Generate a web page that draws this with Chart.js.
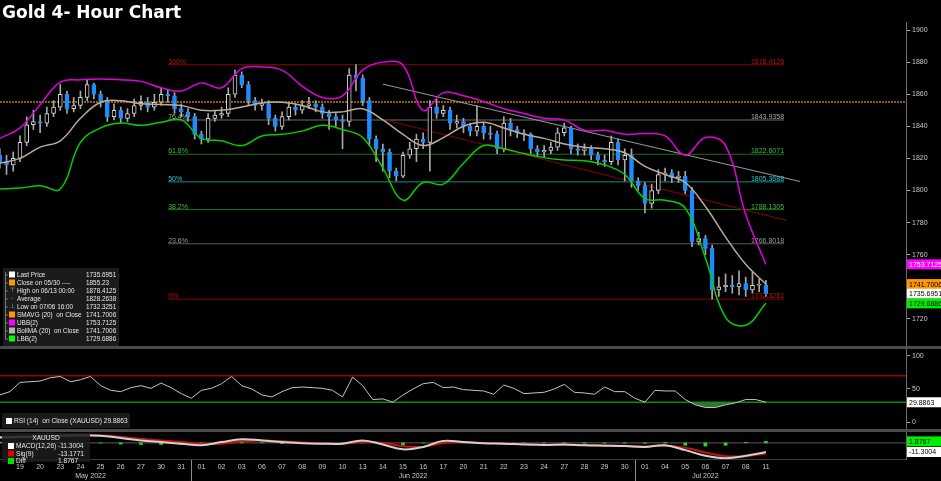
<!DOCTYPE html>
<html>
<head>
<meta charset="utf-8">
<title>Gold 4- Hour Chart</title>
<script src="https://cdn.jsdelivr.net/npm/chart.js@4.4.1/dist/chart.umd.min.js"></script>
<style>
  html, body { margin: 0; padding: 0; background: #000; }
  canvas { display: block; }
</style>
</head>
<body>
<canvas id="goldChart" width="941" height="481"></canvas>
<script>
// Gold 4-hour chart: candles + Bollinger bands, RSI(14) and MACD panels

const TITLE = 'Gold 4- Hour Chart';

// trading days shown on the x axis (index 0 = May 19)
const dayLabels = ['19','20','23','24','25','26','27','30','31',
  '01','02','03','06','07','08','09','10','13','14','15','16','17','20','21','22','23','24','27','28','29','30',
  '01','04','05','06','07','08','11'];
const monthNames = ['May 2022', 'Jun 2022', 'Jul 2022'];
const monthFirstDay = [-1, 9, 31];
const monthLastDay = [8, 30, 37];

// 4-hour candles, three per trading day, starting at day -1
const opens = [1822,1818,1816,1820,1830,1841,1843,1842,1848,1852,
  1860,1851,1853,1858,1866,1860,1856,1846,1850,1845,
  1848,1853,1855,1852,1855,1860,1859,1851,1849,1846,
  1835,1832,1845,1847,1848,1860,1872,1866,1856,1853,
  1854,1845,1840,1846,1852,1850,1853,1854,1852,1848,
  1846,1844,1843,1872,1870,1856,1832,1826,1824,1812,
  1809,1822,1826,1832,1830,1852,1848,1850,1842,1843,
  1840,1837,1840,1836,1835,1826,1842,1838,1836,1835,
  1826,1824,1825,1827,1836,1839,1826,1825,1826,1822,
  1819,1818,1830,1819,1822,1806,1803,1792,1800,1810,
  1811,1808,1809,1800,1768,1770,1764,1738,1740,1741,
  1740,1742,1738,1741,1741];
const closes = [1818,1816,1820,1830,1841,1843,1842,1848,1852,1860,
  1851,1853,1858,1866,1860,1856,1846,1850,1845,1848,
  1853,1855,1852,1855,1860,1859,1851,1849,1846,1835,
  1832,1845,1847,1848,1860,1872,1866,1856,1853,1854,
  1845,1840,1846,1852,1850,1853,1854,1852,1848,1846,
  1844,1843,1872,1870,1856,1832,1826,1824,1812,1809,
  1822,1826,1832,1830,1852,1848,1850,1842,1843,1840,
  1837,1840,1836,1835,1826,1842,1838,1836,1835,1826,
  1824,1825,1827,1836,1839,1826,1825,1826,1822,1819,
  1818,1830,1819,1822,1806,1803,1792,1800,1810,1811,
  1808,1809,1800,1768,1770,1764,1738,1740,1741,1740,
  1742,1738,1741,1741,1735.7];
const highs = [1826,1822,1824,1834,1846,1850,1847,1852,1856,1866,
  1862,1858,1862,1869,1867,1862,1858,1854,1852,1851,
  1857,1859,1858,1860,1864,1863,1861,1854,1851,1848,
  1837,1848,1850,1852,1864,1875,1874,1868,1858,1857,
  1856,1847,1849,1855,1854,1856,1858,1856,1854,1850,
  1848,1847,1876,1878.4,1872,1858,1834,1829,1826,1814,
  1824,1830,1835,1836,1856,1857,1853,1852,1847,1845,
  1842,1853,1842,1840,1837,1846,1845,1840,1838,1836,
  1828,1828,1830,1839,1842,1840,1829,1829,1828,1824,
  1822,1834,1832,1826,1826,1808,1805,1804,1813,1814,
  1813,1812,1812,1802,1774,1772,1766,1746,1748,1747,
  1750,1746,1749,1745,1744];
const lows = [1814,1810,1812,1818,1828,1838,1836,1840,1846,1850,
  1848,1849,1851,1856,1857,1852,1843,1844,1842,1843,
  1846,1850,1849,1850,1853,1855,1848,1846,1843,1832,
  1829,1830,1843,1845,1846,1858,1864,1853,1850,1850,
  1841,1837,1838,1844,1847,1848,1851,1849,1845,1838,
  1840,1826,1840,1862,1853,1828,1818,1812,1808,1806,
  1808,1820,1818,1826,1812,1845,1846,1838,1839,1836,
  1834,1834,1832,1832,1823,1824,1834,1833,1831,1823,
  1821,1821,1823,1825,1834,1823,1822,1822,1819,1816,
  1815,1816,1816,1806,1802,1800,1786,1789,1798,1806,
  1805,1805,1798,1765,1766,1760,1732.3,1734,1737,1736,
  1735,1734,1736,1737,1734];

// Bollinger bands, one reading per day from day -1
const ubb = [1832.5,1839,1853.5,1867.5,1869,1869.5,1869,1868,1864,1862,
  1867,1864,1876,1877,1875,1865,1858,1859,1875,1880,
  1878,1850,1861,1859,1855.5,1851,1848,1845,1844,1837.5,
  1837.5,1835,1835.5,1834,1822,1833,1828,1785,1754];
const smavg = [1817,1820,1827,1831,1845,1855,1856,1854,1853.6,1853,
  1850,1850,1852,1854.5,1855,1853,1849,1849,1851,1844,
  1835,1828,1833,1840,1842.5,1839,1835,1832.5,1829,1827,
  1826,1823.5,1815,1810,1805,1790,1771,1754,1741.7];
const lbb = [1801,1801.5,1803,1801,1830,1839,1842,1840.6,1842.5,1844,
  1832.5,1831,1828,1834,1835,1837,1840.6,1838,1833,1814,
  1794,1805,1804,1817,1828,1826,1823,1820.5,1819,1818.5,
  1816,1810,1795,1794,1789,1758,1721,1716,1729.7];

// drawings on the price panel
const closeRef = 1855.23;
const fibPcts = ['100%', '76.4%', '61.8%', '50%', '38.2%', '23.6%', '0%'];
const fibValues = [1878.4125, 1843.9358, 1822.6071, 1805.3688, 1788.1305, 1766.8018, 1732.3251];
const fibColors = ['#8b0000', '#6e6e6e', '#1c6e1c', '#1a8a8a', '#1c6e1c', '#5a5a5a', '#8b0000'];
const fibTextColors = ['#c01010', '#a8a8a8', '#3cbf3c', '#2ac8c8', '#3cbf3c', '#9a9a9a', '#c01010'];
const fibDays = [7.35, 37.9];
const grayTrendDays = [18.0, 38.7];
const grayTrendPrices = [1866.3, 1805.6];
const redTrendDays = [18.2, 38.05];
const redTrendPrices = [1843.8, 1781.3];

// RSI(14), two readings per day from day -1
const rsi = [41,46,60,61,62,67,69,61,64,69,
  55,48,46,52,55,51,59,52,43,36,
  48,51,58,69,55,50,41,38,46,52,
  53,52,51,48,38,68,55,34,35,30,
  41,50,58,60,52,53,49,48,47,42,
  56,51,43,44,45,50,57,45,44,42,
  53,46,46,36,30,48,47,47,34,26,
  22,22,26,29,34,34,29.9];
const rsiLevels = [70, 30];

// MACD(12,26), signal(9) and diff, one reading per day from day -1
const macd = [7,7.5,8,9,9.5,9,6,3,1,-1,
  -3,1,4.5,3,1,-0.5,-1,-1,3,-2,
  -8,-5,2.5,1,-0.5,-1,-2,-2.5,-2,-3,
  -3.5,-4,-5,-3,-9,-16,-19,-16,-11.3];
const signal = [6,7,7.5,8.5,9,9.2,7.5,5,3,1,
  -1,-1,2,3,2,0.5,-0.5,-1,1,0,
  -4,-5,0,1,0,-0.5,-1.5,-2.2,-2.2,-2.6,
  -3.2,-3.7,-4.5,-3.5,-6,-12,-16.5,-16.5,-13.2];
const diff = [1,0.5,0.5,0.5,0.5,-0.2,-1.5,-2,-2,-2,
  -2,2,2.5,0,-1,-1,-0.5,0,2,-2,
  -4,0,2.5,0,-0.5,-0.5,-0.5,-0.3,0.2,-0.4,
  -0.3,-0.3,-0.5,0.5,-3,-4,-3,0.5,1.9];

// legend texts
const legendRows = [
  ['#ffffff', 'Last Price', '1735.6951'],
  ['#ff9900', 'Close on 05/30 ----', '1855.23'],
  [null, 'High on 06/13 00:00', '1878.4125'],
  [null, 'Average', '1828.2638'],
  [null, 'Low on 07/06 16:00', '1732.3251'],
  ['#ff9900', 'SMAVG (20)  on Close', '1741.7006'],
  ['#ff00ff', 'UBB(2)', '1753.7125'],
  ['#b4b4b4', 'BollMA (20)  on Close', '1741.7006'],
  ['#00ff00', 'LBB(2)', '1729.6886']
];
const macdRows = [
  ['#ffffff', 'MACD(12,26)', '-11.3004'],
  ['#e00000', 'Sig(9)', '-13.1771'],
  ['#00e000', 'Diff', '1.8767']
];

const X_MIN = -0.99;
const X_MAX = 43.95;
const FONT = '"Liberation Sans", Arial, sans-serif';

const candleTimes = closes.map((_, k) => -1 + k / 3);
const bandDays = ubb.map((_, i) => i - 1);
const rsiTimes = rsi.map((_, k) => -1 + k / 2);

function pts(xs, ys) {
    return ys.map((y, i) => ({ x: xs[i], y: y }));
}

const datasets = [
    { label: 'UBB(2)', data: pts(bandDays, ubb), borderColor: '#e000e0', borderWidth: 1.5, tension: 0.4, yAxisID: 'yPrice' },
    { label: 'SMAVG', data: pts(bandDays, smavg), borderColor: '#bcab98', borderWidth: 1.5, tension: 0.4, yAxisID: 'yPrice' },
    { label: 'LBB(2)', data: pts(bandDays, lbb), borderColor: '#00d000', borderWidth: 1.5, tension: 0.4, yAxisID: 'yPrice' },
    {
        type: 'bar', label: 'body', yAxisID: 'yPrice', grouped: false,
        data: closes.map((c, k) => ({ x: candleTimes[k], y: [opens[k], c] })),
        backgroundColor: ctx => closes[ctx.dataIndex] < opens[ctx.dataIndex] ? '#1e8cff' : '#000000',
        borderColor: ctx => closes[ctx.dataIndex] < opens[ctx.dataIndex] ? '#1e8cff' : '#d4d4d4',
        borderWidth: 1, borderSkipped: false, barThickness: 4, minBarLength: 1
    },
    {
        type: 'bar', label: 'wick', yAxisID: 'yPrice', grouped: false,
        data: highs.map((h, k) => ({ x: candleTimes[k], y: [lows[k], h] })),
        backgroundColor: '#a8a8a8', borderWidth: 0, barThickness: 1
    },
    { label: 'gray trend', data: pts(grayTrendDays, grayTrendPrices), borderColor: '#9a9a9a', borderWidth: 1, yAxisID: 'yPrice' },
    { label: 'red trend', data: pts(redTrendDays, redTrendPrices), borderColor: '#8b0000', borderWidth: 1, yAxisID: 'yPrice' }
];

fibValues.forEach((v, i) => {
    datasets.push({ label: 'fib ' + fibPcts[i], data: pts(fibDays, [v, v]), borderColor: fibColors[i], borderWidth: 1, yAxisID: 'yPrice' });
});

datasets.push(
    { label: 'close 05/30', data: pts([X_MIN, X_MAX], [closeRef, closeRef]), borderColor: '#c87a00', borderWidth: 1.5, borderDash: [2, 1], yAxisID: 'yPrice' },
    {
        label: 'RSI', data: pts(rsiTimes, rsi), borderColor: '#c4c4c4', borderWidth: 1, yAxisID: 'yRsi',
        fill: { target: { value: 30 }, above: 'rgba(0,0,0,0)', below: 'rgba(46,140,60,0.85)' }
    },
    { label: 'RSI 70', data: pts([X_MIN, X_MAX], [rsiLevels[0], rsiLevels[0]]), borderColor: '#9a0000', borderWidth: 1.5, yAxisID: 'yRsi' },
    { label: 'RSI 30', data: pts([X_MIN, X_MAX], [rsiLevels[1], rsiLevels[1]]), borderColor: '#0a8a0a', borderWidth: 1.5, yAxisID: 'yRsi' },
    { label: 'MACD', data: pts(bandDays, macd), borderColor: '#d0d0d0', borderWidth: 2, tension: 0.4, yAxisID: 'yMacd' },
    { label: 'Signal', data: pts(bandDays, signal), borderColor: '#cc1010', borderWidth: 2, tension: 0.4, yAxisID: 'yMacd' },
    {
        type: 'bar', label: 'Diff', yAxisID: 'yMacd', grouped: false,
        data: pts(bandDays, diff), backgroundColor: '#20dd20', barThickness: 3
    },
    { label: 'zero', data: pts([X_MIN, X_MAX], [0, 0]), borderColor: '#5a5a5a', borderWidth: 1, yAxisID: 'yMacd' }
);

function fixWidth(scale) { scale.width = 35; }

function priceTag(c, y, text, bg, fg) {
    c.fillStyle = bg;
    c.fillRect(907, y - 5, 34, 10);
    c.fillStyle = fg;
    c.textAlign = 'left';
    c.textBaseline = 'middle';
    c.fillText(text, 909, y + 0.5);
}

const overlayPlugin = {
    id: 'overlay',
    beforeDraw(chart) {
        const c = chart.ctx;
        c.save();
        c.fillStyle = '#000';
        c.fillRect(0, 0, chart.width, chart.height);
        c.restore();
    },
    afterDraw(chart) {
        const c = chart.ctx;
        const xs = chart.scales.x, yp = chart.scales.yPrice, yr = chart.scales.yRsi, ym = chart.scales.yMacd;
        c.save();

        // title
        c.fillStyle = '#ffffff';
        c.font = 'bold 17px "DejaVu Sans", sans-serif';
        c.textAlign = 'left';
        c.textBaseline = 'alphabetic';
        c.fillText(TITLE, 2, 18);

        // panel separators
        c.fillStyle = '#4a4a4a';
        c.fillRect(0, yp.bottom - 1, chart.width, 3);
        c.fillRect(0, yr.bottom - 1, chart.width, 3);
        c.fillStyle = '#3c3c3c';
        c.fillRect(0, ym.bottom, xs.right, 1);

        // month separators and labels
        c.strokeStyle = '#8a8a8a';
        c.lineWidth = 1;
        for (let i = 1; i < monthNames.length; i++) {
            const px = Math.round(xs.getPixelForValue(monthFirstDay[i] - 0.5)) + 0.5;
            c.beginPath();
            c.moveTo(px, ym.bottom + 1);
            c.lineTo(px, chart.height);
            c.stroke();
        }
        c.fillStyle = '#c8c8c8';
        c.font = '7px ' + FONT;
        c.textAlign = 'center';
        c.textBaseline = 'middle';
        monthNames.forEach((m, i) => {
            c.fillText(m, xs.getPixelForValue((monthFirstDay[i] + monthLastDay[i]) / 2), 476.5);
        });

        // fibonacci labels
        c.font = '7px ' + FONT;
        c.textBaseline = 'alphabetic';
        fibValues.forEach((v, i) => {
            const py = yp.getPixelForValue(v) - 1;
            c.fillStyle = fibTextColors[i];
            c.textAlign = 'left';
            c.fillText(fibPcts[i], xs.getPixelForValue(fibDays[0]), py);
            c.textAlign = 'right';
            c.fillText(v.toFixed(4), xs.getPixelForValue(fibDays[1]), py);
        });

        // right-hand value tags
        c.font = '7px ' + FONT;
        priceTag(c, yp.getPixelForValue(ubb[ubb.length - 1]), '1753.7125', '#ff00ff', '#ffffff');
        priceTag(c, yp.getPixelForValue(smavg[smavg.length - 1]), '1741.7006', '#ff9900', '#000000');
        priceTag(c, yp.getPixelForValue(closes[closes.length - 1]), '1735.6951', '#ffffff', '#000000');
        priceTag(c, yp.getPixelForValue(lbb[lbb.length - 1]), '1729.6886', '#00ee00', '#000000');
        priceTag(c, yr.getPixelForValue(rsi[rsi.length - 1]), '29.8863', '#ffffff', '#000000');
        priceTag(c, ym.getPixelForValue(diff[diff.length - 1]), '1.8767', '#00ee00', '#000000');
        priceTag(c, ym.getPixelForValue(macd[macd.length - 1]), '-11.3004', '#ffffff', '#000000');

        // price legend box
        c.fillStyle = 'rgba(28,28,28,0.95)';
        c.fillRect(3, 268, 116, yp.bottom - 269);
        c.strokeStyle = '#777';
        c.beginPath();
        c.moveTo(5.5, 272); c.lineTo(5.5, 339);
        c.stroke();
        c.font = '6.4px ' + FONT;
        c.textBaseline = 'middle';
        legendRows.forEach((row, i) => {
            const py = 274.5 + i * 8;
            c.fillStyle = '#777';
            c.fillRect(5, py, 3, 1);
            if (row[0]) {
                c.fillStyle = row[0];
                c.fillRect(9, py - 3, 6, 6);
            } else {
                c.fillStyle = '#aaa';
                c.textAlign = 'center';
                c.fillText(i === 2 ? '\u22A4' : (i === 4 ? '\u22A5' : '-'), 12, py);
            }
            c.fillStyle = '#e6e6e6';
            c.textAlign = 'left';
            c.fillText(row[1], 17, py + 0.5);
            c.fillText(row[2], 86, py + 0.5);
        });

        // RSI legend
        c.font = '6.6px ' + FONT;
        c.fillStyle = 'rgba(28,28,28,0.95)';
        c.fillRect(2, 413, 128, 15);
        c.fillStyle = '#ffffff';
        c.fillRect(6, 418, 6, 6);
        c.fillStyle = '#e6e6e6';
        c.textAlign = 'left';
        c.fillText('RSI (14)  on Close (XAUUSD) 29.8863', 14, 421.5);

        // MACD legend
        c.fillStyle = 'rgba(28,28,28,0.85)';
        c.fillRect(2, ym.top + 3, 88, ym.bottom - ym.top);
        c.fillStyle = '#e6e6e6';
        c.textAlign = 'center';
        c.fillText('XAUUSD', 46, ym.top + 8);
        macdRows.forEach((row, i) => {
            const py = ym.top + 16 + i * 7.5;
            c.fillStyle = row[0];
            c.fillRect(8, py - 3, 6, 6);
            c.fillStyle = '#e6e6e6';
            c.textAlign = 'left';
            c.fillText(row[1], 16, py + 0.5);
            c.fillText(row[2], 58, py + 0.5);
        });

        c.restore();
    }
};

const tickFont = { family: FONT, size: 7 };

new Chart(document.getElementById('goldChart'), {
    type: 'line',
    data: { datasets: datasets },
    options: {
        responsive: false,
        animation: false,
        events: [],
        layout: { padding: { top: 22, left: 0, right: 0, bottom: 0 } },
        elements: { point: { radius: 0 }, line: { fill: false } },
        plugins: { legend: { display: false }, tooltip: { enabled: false } },
        scales: {
            x: {
                type: 'linear', min: X_MIN, max: X_MAX, offset: false,
                grid: { display: false, drawTicks: false },
                border: { display: false },
                afterFit: s => { s.height = 22; },
                ticks: {
                    stepSize: 1, maxTicksLimit: 200, autoSkip: false, maxRotation: 0, includeBounds: false,
                    color: '#c8c8c8', font: tickFont, padding: 4,
                    callback: v => (Number.isInteger(v) && v >= 0 && v < dayLabels.length) ? dayLabels[v] : ''
                }
            },
            yPrice: {
                type: 'linear', position: 'right', stack: 'panels', stackWeight: 325,
                min: 1702.5, max: 1905,
                afterFit: fixWidth,
                border: { display: true, color: '#6a6a6a' },
                grid: { drawOnChartArea: false, tickLength: 4, tickColor: '#aaaaaa' },
                ticks: { stepSize: 20, includeBounds: false, color: '#c8c8c8', font: tickFont, padding: 2, callback: v => String(v) }
            },
            yRsi: {
                type: 'linear', position: 'right', stack: 'panels', stackWeight: 83,
                min: -12.1, max: 113.6,
                afterFit: fixWidth,
                border: { display: true, color: '#6a6a6a' },
                grid: { drawOnChartArea: false, tickLength: 4, tickColor: '#aaaaaa' },
                ticks: { stepSize: 50, includeBounds: false, color: '#c8c8c8', font: tickFont, padding: 2, callback: v => String(v) }
            },
            yMacd: {
                type: 'linear', position: 'right', stack: 'panels', stackWeight: 29,
                min: -20, max: 16,
                afterFit: fixWidth,
                border: { display: true, color: '#6a6a6a' },
                grid: { display: false },
                ticks: { display: false }
            }
        }
    },
    plugins: [overlayPlugin]
});
</script>
</body>
</html>
